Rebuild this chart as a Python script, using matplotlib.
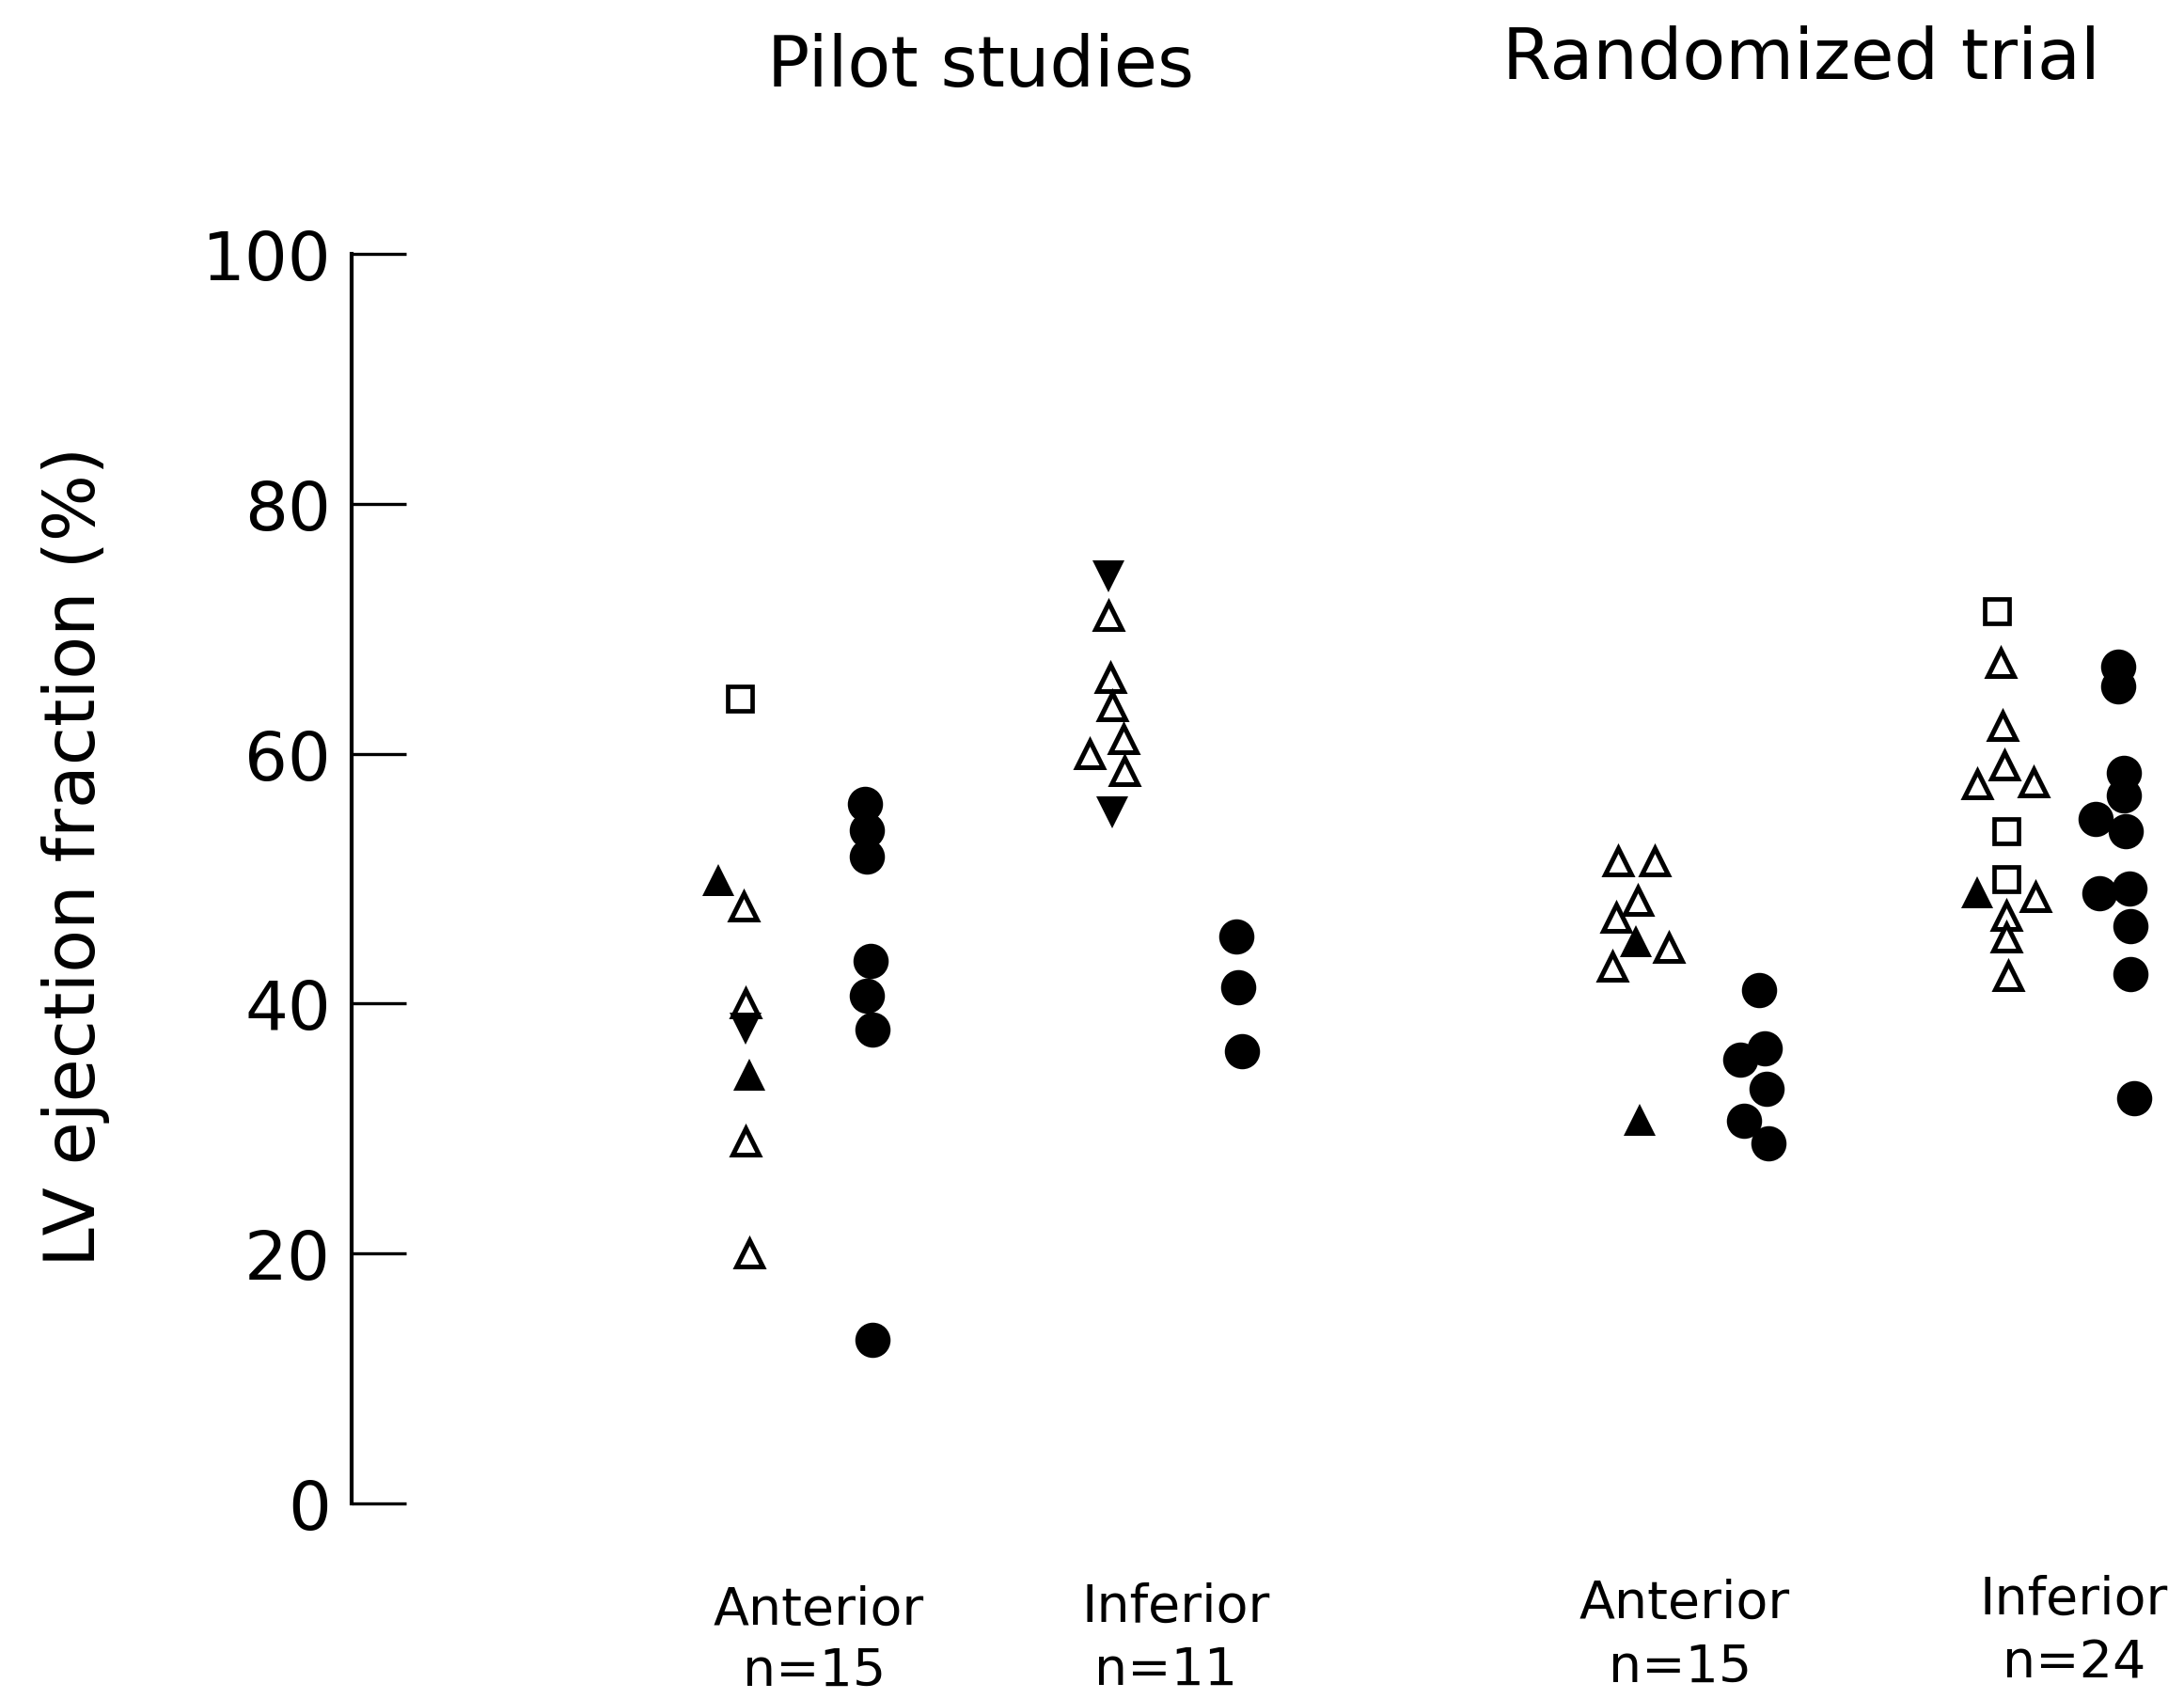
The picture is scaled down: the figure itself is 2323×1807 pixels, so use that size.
import matplotlib.pyplot as plt

# =====================================================
# DATA  (LV ejection fraction, %)
# x values are horizontal placement inside each column
# =====================================================

# Pilot studies - anterior
pa_square_y = [64.4]
pa_square_x = [2.12]
pa_open_tri_y = [47.8, 40.0, 29.0, 20.0]
pa_open_tri_x = [2.14, 2.15, 2.15, 2.17]
pa_up_tri_y = [49.9, 34.3]
pa_up_tri_x = [2.00, 2.17]
pa_down_tri_y = [38.0]
pa_down_tri_x = [2.15]
pa_circle_y = [56.0, 53.9, 51.8, 43.4, 40.6, 37.9, 13.1]
pa_circle_x = [2.80, 2.81, 2.81, 2.83, 2.81, 2.84, 2.84]

# Pilot studies - inferior
pi_open_tri_y = [71.0, 66.1, 63.8, 61.2, 60.0, 58.6]
pi_open_tri_x = [4.13, 4.14, 4.15, 4.21, 4.03, 4.22]
pi_down_tri_y = [74.2, 55.3]
pi_down_tri_x = [4.13, 4.15]
pi_circle_y = [45.4, 41.3, 36.2]
pi_circle_x = [4.83, 4.84, 4.86]

# Randomized trial - anterior
ra_open_tri_y = [51.4, 51.4, 48.2, 46.9, 44.5, 43.0]
ra_open_tri_x = [6.91, 7.11, 7.02, 6.90, 7.19, 6.88]
ra_up_tri_y = [45.0, 30.7]
ra_up_tri_x = [7.01, 7.03]
ra_circle_y = [41.1, 36.4, 35.5, 33.2, 30.6, 28.8]
ra_circle_x = [7.68, 7.71, 7.58, 7.72, 7.60, 7.73]

# Randomized trial - inferior
ri_square_y = [71.4, 53.8, 50.0]
ri_square_x = [8.98, 9.03, 9.03]
ri_open_tri_y = [67.3, 62.2, 59.1, 57.6, 57.7, 48.5, 47.0, 45.3, 42.2]
ri_open_tri_x = [9.00, 9.01, 9.02, 8.87, 9.18, 9.19, 9.03, 9.03, 9.04]
ri_up_tri_y = [48.9]
ri_up_tri_x = [8.87]
ri_circle_y = [67.0, 65.4, 58.5, 56.7, 54.8, 53.8, 48.8, 49.2, 46.2, 42.4, 32.4]
ri_circle_x = [9.64, 9.64, 9.67, 9.67, 9.52, 9.68, 9.54, 9.70, 9.71, 9.71, 9.73]

group_names = ["Anterior", "Inferior", "Anterior", "Inferior"]
group_n = ["n=15", "n=11", "n=15", "n=24"]
study_titles = ["Pilot studies", "Randomized trial"]
y_ticks = [0, 20, 40, 60, 80, 100]

# =====================================================
# FIGURE
# =====================================================

plt.rcParams["font.family"] = "DejaVu Sans"

fig = plt.figure(figsize=(23.23, 18.08), dpi=100)
fig.patch.set_facecolor("white")

ax = fig.add_axes([0.1610, 0.1150, 0.8390, 0.7351])
ax.set_xlim(0, 10)
ax.set_ylim(0, 100)

circle_style = dict(linestyle="none", marker="o", markersize=27,
                    markerfacecolor="black", markeredgecolor="black",
                    markeredgewidth=0, clip_on=False)
open_tri_style = dict(linestyle="none", marker="^", markersize=20,
                      markerfacecolor="white", markeredgecolor="black",
                      markeredgewidth=3.6, clip_on=False)
up_tri_style = dict(linestyle="none", marker="^", markersize=24,
                    markerfacecolor="black", markeredgecolor="black",
                    markeredgewidth=0, clip_on=False)
down_tri_style = dict(linestyle="none", marker="v", markersize=24,
                      markerfacecolor="black", markeredgecolor="black",
                      markeredgewidth=0, clip_on=False)
square_style = dict(linestyle="none", marker="s", markersize=19,
                    markerfacecolor="white", markeredgecolor="black",
                    markeredgewidth=3.4, clip_on=False)

# circles
for xs, ys in [(pa_circle_x, pa_circle_y), (pi_circle_x, pi_circle_y),
               (ra_circle_x, ra_circle_y), (ri_circle_x, ri_circle_y)]:
    ax.plot(xs, ys, **circle_style)

# open squares
for xs, ys in [(pa_square_x, pa_square_y), (ri_square_x, ri_square_y)]:
    ax.plot(xs, ys, **square_style)

# open triangles
for xs, ys in [(pa_open_tri_x, pa_open_tri_y), (pi_open_tri_x, pi_open_tri_y),
               (ra_open_tri_x, ra_open_tri_y), (ri_open_tri_x, ri_open_tri_y)]:
    ax.plot(xs, ys, **open_tri_style)

# filled triangles
for xs, ys in [(pa_up_tri_x, pa_up_tri_y), (ra_up_tri_x, ra_up_tri_y),
               (ri_up_tri_x, ri_up_tri_y)]:
    ax.plot(xs, ys, **up_tri_style)

for xs, ys in [(pa_down_tri_x, pa_down_tri_y), (pi_down_tri_x, pi_down_tri_y)]:
    ax.plot(xs, ys, **down_tri_style)

# =====================================================
# AXES
# =====================================================

for side in ["top", "right", "bottom"]:
    ax.spines[side].set_visible(False)
ax.spines["left"].set_linewidth(3)
ax.spines["left"].set_bounds(0, 100)

ax.set_xticks([])
ax.set_yticks(y_ticks)
ax.set_yticklabels([str(t) for t in y_ticks])
ax.tick_params(axis="y", direction="in", length=42, width=2.4,
               pad=16, labelsize=52)

fig.text(81 / 2323, 1 - 911 / 1808, "LV ejection fraction (%)",
         rotation=90, ha="center", va="center", fontsize=54)

# study titles
title_x = [1043, 1916]
title_base = [92, 84]
for t, x, y in zip(study_titles, title_x, title_base):
    fig.text(x / 2323, 1 - y / 1808, t, ha="center", va="baseline",
             fontsize=54)

# group labels
name_x = [871, 1251, 1792, 2206]
name_base = [1728, 1725, 1721, 1717]
n_x = [866, 1240, 1787, 2206]
n_base = [1793, 1792, 1789, 1785]
for name, x, y in zip(group_names, name_x, name_base):
    fig.text(x / 2323, 1 - y / 1808, name, ha="center", va="baseline",
             fontsize=40)
for n, x, y in zip(group_n, n_x, n_base):
    fig.text(x / 2323, 1 - y / 1808, n, ha="center", va="baseline",
             fontsize=40)

fig.savefig("out.png", dpi=100, facecolor="white")
